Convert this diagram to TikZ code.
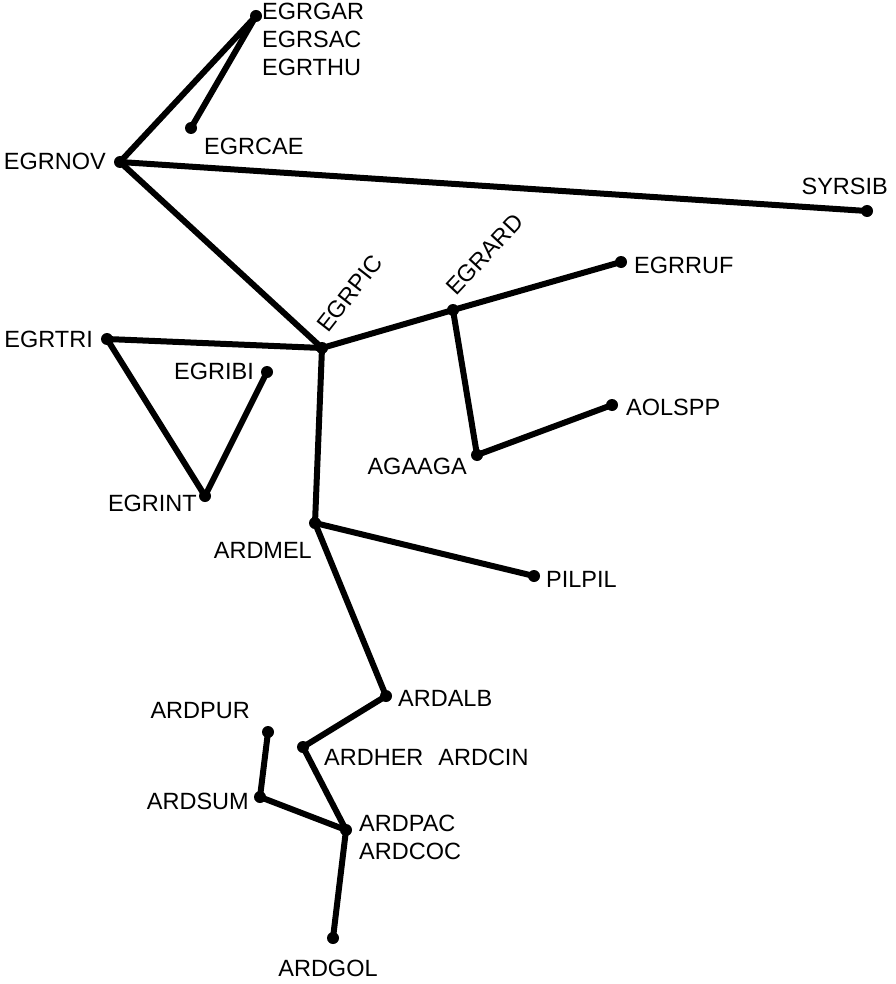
\documentclass[tikz,border=0pt]{standalone}
\usepackage{fontspec}
\setmainfont{Liberation Sans}
\begin{document}
\begin{tikzpicture}[x=1pt,y=-1pt,
  dot/.style={circle,fill=black,inner sep=0pt,minimum size=12pt},
  edge/.style={line width=6pt,line cap=round,line join=round},
  lab/.style={inner sep=0pt,font=\fontsize{23.5}{28}\selectfont,align=left}]
\useasboundingbox (0,0) rectangle (895,984);
% points
\node[dot] (gar) at (256,16) {};
\node[dot] (cae) at (191,128) {};
\node[dot] (nov) at (120,162) {};
\node[dot] (syr) at (867,211) {};
\node[dot] (pic) at (322,348) {};
\node[dot] (ard) at (453,310) {};
\node[dot] (ruf) at (621,262) {};
\node[dot] (tri) at (107,339) {};
\node[dot] (ibi) at (267,372) {};
\node[dot] (int) at (205,496) {};
\node[dot] (aol) at (612,405) {};
\node[dot] (aga) at (477,455) {};
\node[dot] (mel) at (315,523) {};
\node[dot] (pil) at (534,576) {};
\node[dot] (alb) at (386,696) {};
\node[dot] (her) at (303,747) {};
\node[dot] (pur) at (268,732) {};
\node[dot] (sum) at (260,797) {};
\node[dot] (pac) at (346,830) {};
\node[dot] (gol) at (333,938) {};
% edges
\draw[edge] (gar.center) -- (nov.center);
\draw[edge] (gar.center) -- (cae.center);
\draw[edge] (nov.center) -- (syr.center);
\draw[edge] (nov.center) -- (pic.center);
\draw[edge] (pic.center) -- (ard.center) -- (ruf.center);
\draw[edge] (ard.center) -- (aga.center) -- (aol.center);
\draw[edge] (pic.center) -- (tri.center) -- (int.center) -- (ibi.center);
\draw[edge] (pic.center) -- (mel.center) -- (pil.center);
\draw[edge] (mel.center) -- (alb.center) -- (her.center) -- (pac.center) -- (gol.center);
\draw[edge] (pac.center) -- (sum.center) -- (pur.center);
% labels
\node[lab,anchor=north west] (lgar) at (262,3) {EGRGAR\\EGRSAC\\EGRTHU};
\node[lab,anchor=west] (lcae) at (204,146) {EGRCAE};
\node[lab,anchor=east] (lnov) at (106,161) {EGRNOV};
\node[lab,anchor=east] (lsyr) at (888,186) {SYRSIB};
\node[lab,anchor=west] (lruf) at (634,265) {EGRRUF};
\node[lab,anchor=east] (ltri) at (93,339) {EGRTRI};
\node[lab,anchor=east] (libi) at (254,371) {EGRIBI};
\node[lab,anchor=east] (lint) at (197,503) {EGRINT};
\node[lab,anchor=west] (laol) at (626,407) {AOLSPP};
\node[lab,anchor=east] (laga) at (467,466) {AGAAGA};
\node[lab,anchor=east] (lmel) at (312,550) {ARDMEL};
\node[lab,anchor=west] (lpil) at (546,579) {PILPIL};
\node[lab,anchor=west] (lalb) at (398,698) {ARDALB};
\node[lab,anchor=east] (lpur) at (250,711) {ARDPUR};
\node[lab,anchor=west] (lher) at (324,757) {ARDHER\hspace{15pt}ARDCIN};
\node[lab,anchor=east] (lsum) at (249,801) {ARDSUM};
\node[lab,anchor=north west] (lpac) at (359,815) {ARDPAC\\ARDCOC};
\node[lab,anchor=center] (lgol) at (328,968) {ARDGOL};
\node[lab,anchor=base west,rotate=52] (lpic) at (328,334) {EGRPIC};
\node[lab,anchor=base west,rotate=47] (lard) at (456,297) {EGRARD};
\end{tikzpicture}
\end{document}
